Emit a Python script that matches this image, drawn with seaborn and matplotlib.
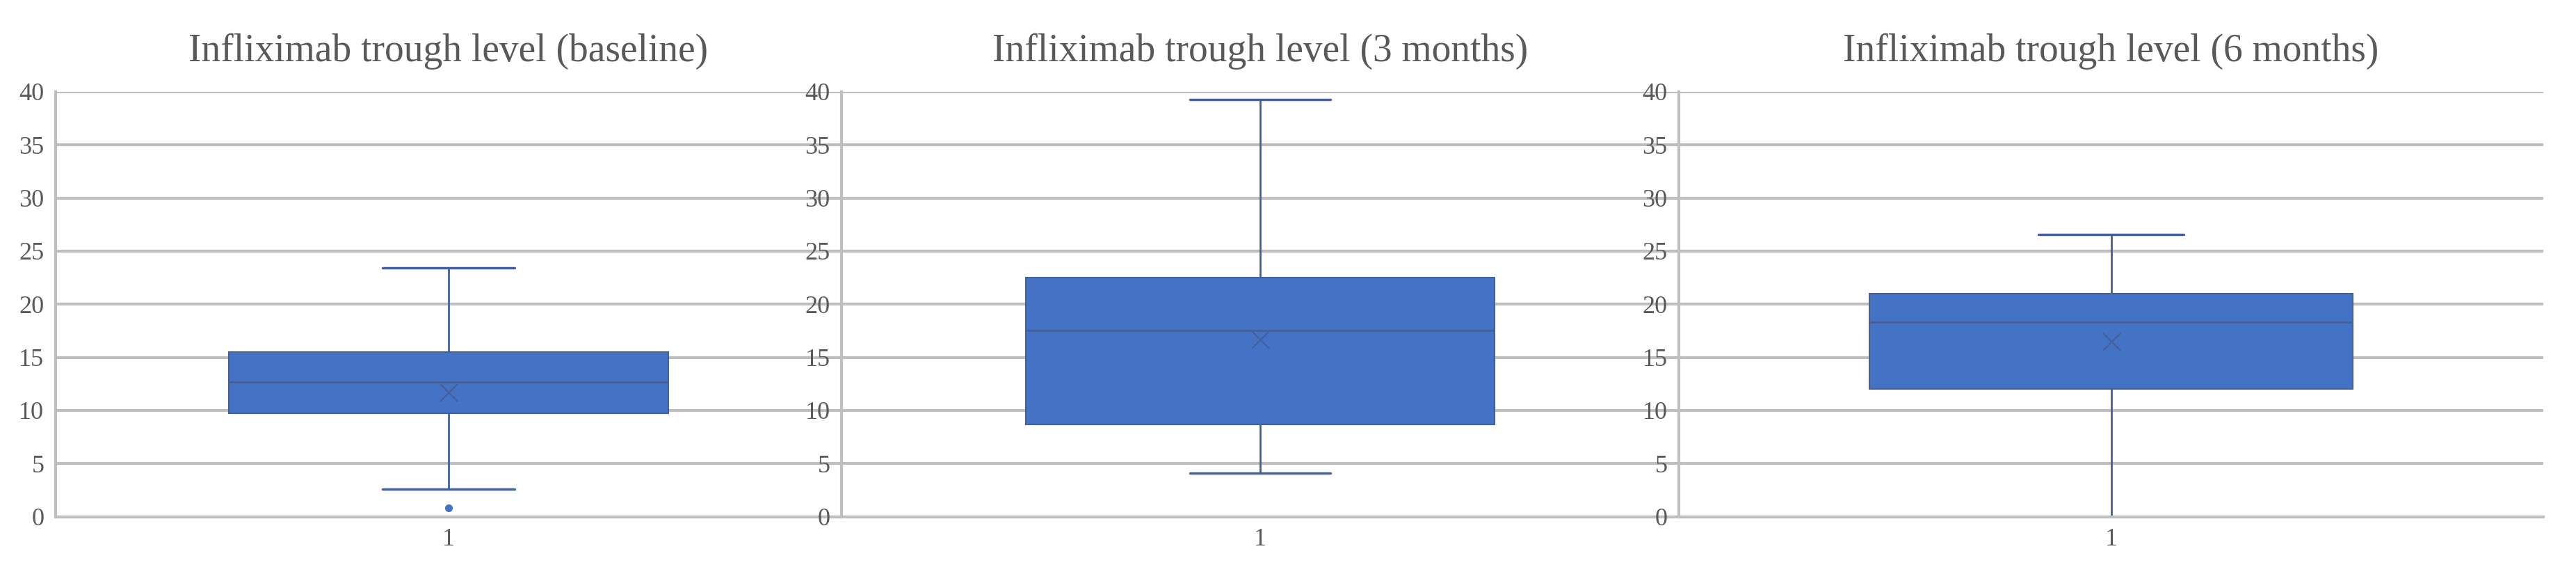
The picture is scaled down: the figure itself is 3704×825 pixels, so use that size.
import numpy as np
import pandas as pd
import matplotlib
matplotlib.use("Agg")
import matplotlib.pyplot as plt
import seaborn as sns

# Sample values chosen to reproduce the box stats
titles = ["Infliximab trough level (baseline)",
          "Infliximab trough level (3 months)",
          "Infliximab trough level (6 months)"]
baseline = [0.8, 2.6, 9.7, 11.0, 12.7, 13.6, 15.5, 16.0, 23.4]
month3 = [4.1, 6.0, 8.7, 10.0, 17.5, 19.0, 22.5, 23.2, 39.3]
month6 = [0.0, 10.0, 12.0, 14.0, 18.3, 20.0, 21.0, 26.6, 26.6]
series = [baseline, month3, month6]
yticks = [0, 5, 10, 15, 20, 25, 30, 35, 40]
xlabel = "1"

sns.set_style("white")
plt.rcParams["font.family"] = ["Liberation Serif", "DejaVu Serif"]

fill = "#4472C4"
line = "#44609A"
grid = "#BFBFBF"
box_w = 0.56

fig = plt.figure(figsize=(37.05, 8.25), dpi=100)
bounds = [0.0216, 0.3266, 0.6516, 0.987]
for i, (title, vals) in enumerate(zip(titles, series)):
    ax = fig.add_axes([bounds[i], 0.10, bounds[i + 1] - bounds[i], 0.74])
    df = pd.DataFrame({"g": xlabel, "v": vals})
    sns.boxplot(data=df, x="g", y="v", ax=ax, width=box_w, whis=1.5,
                showmeans=True,
                boxprops=dict(facecolor=fill, edgecolor=line, linewidth=1.5),
                medianprops=dict(color=line, linewidth=2),
                whiskerprops=dict(color=line, linewidth=2),
                capprops=dict(color=line, linewidth=2.5),
                meanprops=dict(marker="x", markeredgecolor=line, markersize=18, markeredgewidth=1.5),
                flierprops=dict(marker="o", markerfacecolor=fill, markeredgecolor=fill, markersize=7))
    # narrower caps, like the Excel original
    for ln in ax.lines:
        xd = np.asarray(ln.get_xdata(), dtype=float)
        yd = np.asarray(ln.get_ydata(), dtype=float)
        if len(xd) == 2 and yd[0] == yd[1]:
            span = abs(xd[1] - xd[0])
            if span < box_w * 0.9:
                c = xd.mean()
                ln.set_xdata([c - box_w * 0.15, c + box_w * 0.15])
    ax.set_ylim(0, 40)
    ax.set_xlim(-0.5, 0.5)
    ax.set_yticks(yticks)
    ax.yaxis.grid(True, color=grid, linewidth=3)
    ax.set_axisbelow(True)
    for s in ["top", "right"]:
        ax.spines[s].set_visible(False)
    for s in ["left", "bottom"]:
        ax.spines[s].set_color(grid)
        ax.spines[s].set_linewidth(3)
    ax.tick_params(axis="both", labelsize=26, colors="#595959", length=0, pad=12)
    ax.set_xlabel("")
    ax.set_ylabel("")
    ax.set_title(title, fontsize=40, color="#595959", pad=32)

fig.savefig("out.png", dpi=100)
